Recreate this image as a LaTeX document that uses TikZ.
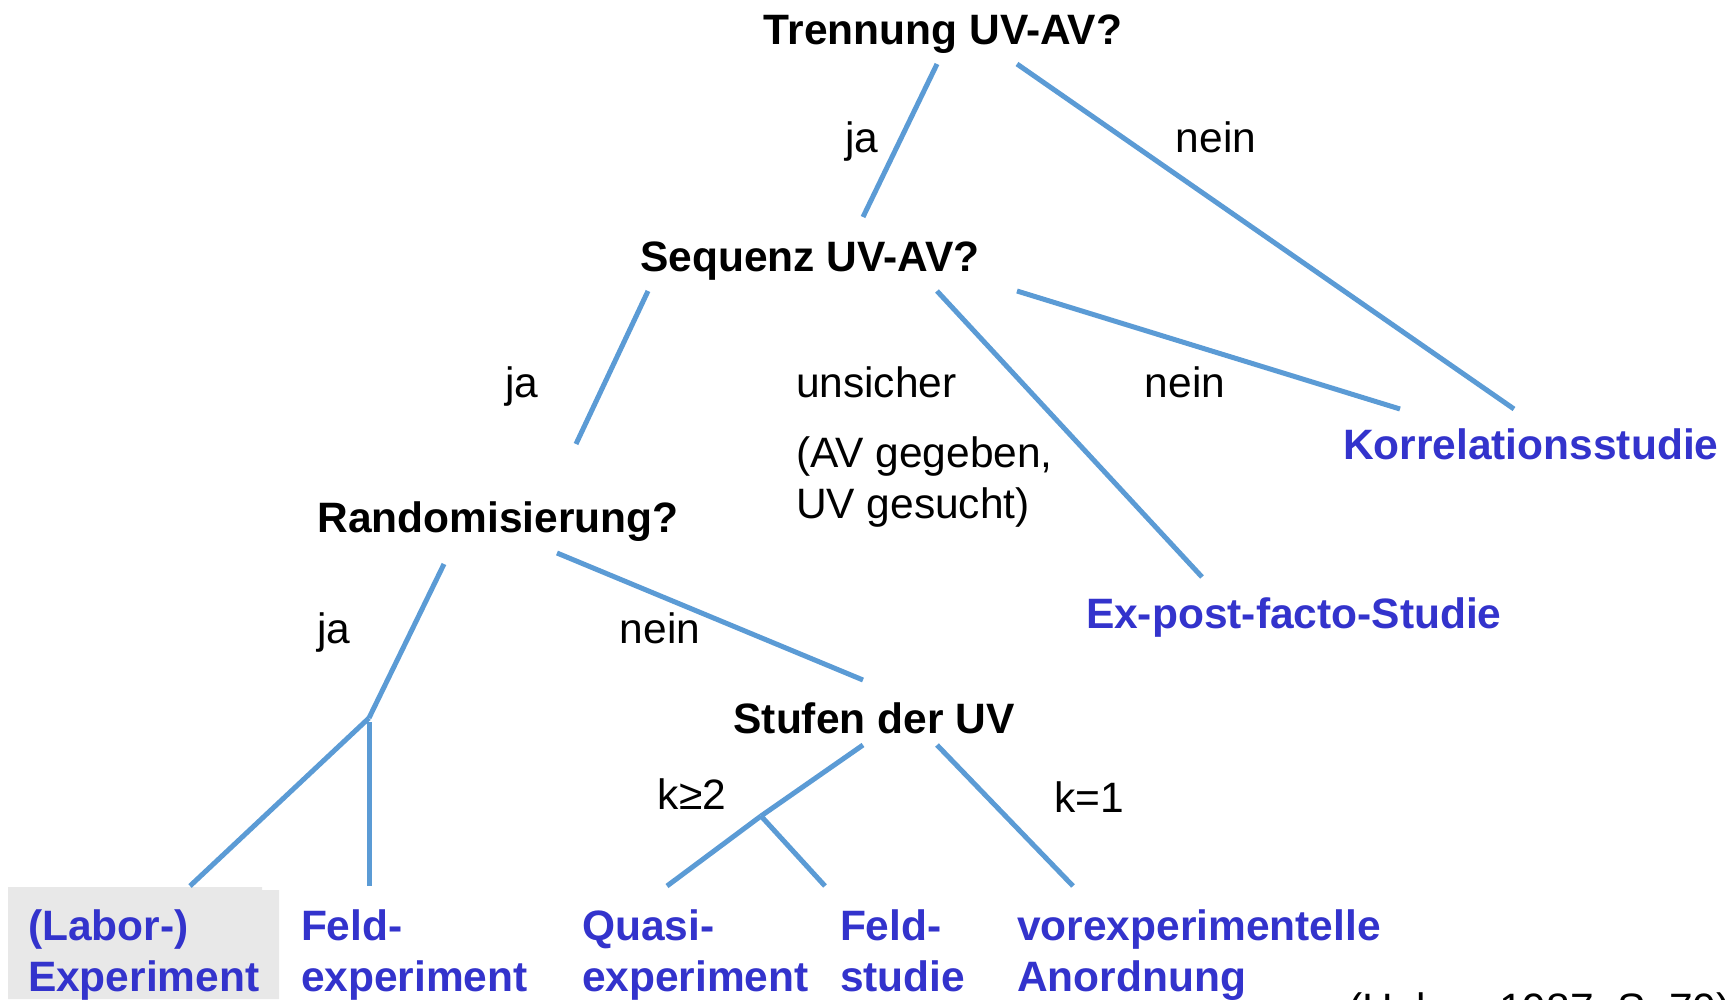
\documentclass[tikz,border=0pt]{standalone}
\usepackage{fontspec}
\setmainfont{Liberation Sans}
\definecolor{branchblue}{HTML}{5B9BD5}
\definecolor{designblue}{HTML}{3333CC}
\definecolor{panelgray}{HTML}{E8E8E8}
\newcommand{\twolines}[2]{\begin{tabular}[t]{@{}l@{}}#1\\#2\end{tabular}}

\begin{document}
\begin{tikzpicture}[x=1pt,y=-1pt,
  every node/.style={inner sep=0pt, outer sep=0pt, font=\fontsize{42.5}{51}\selectfont},
  question/.style={font=\fontsize{42.5}{51}\selectfont\bfseries, anchor=base},
  answer/.style={anchor=base},
  result/.style={font=\fontsize{42.5}{51}\selectfont\bfseries, text=designblue, anchor=base west},
  branch/.style={draw=branchblue, line width=5pt}]
\useasboundingbox (0,0) rectangle (1729,999);

% highlight behind the laboratory experiment
\fill[panelgray] (8,887) -- (262,887) -- (262,890) -- (279,890) -- (279,999) -- (8,999) -- cycle;

% questions
\node[question] (trennung) at (943,44) {Trennung UV-AV?};
\node[question] (sequenz) at (810,271) {Sequenz UV-AV?};
\node[question] (random) at (498,532) {Randomisierung?};
\node[question] (stufen) at (874,733) {Stufen der UV};

% answers
\node[answer] (a1) at (862,152) {ja};
\node[answer] (a2) at (1216,152) {nein};
\node[answer] (a3) at (522,397) {ja};
\node[answer, anchor=base west] (a4) at (796,397) {unsicher};
\node[answer, anchor=base west] (a4note) at (796,467) {\twolines{(AV gegeben,}{UV gesucht)}};
\node[answer] (a5) at (1185,397) {nein};
\node[answer] (a6) at (334,643) {ja};
\node[answer] (a7) at (660,643) {nein};
\node[answer] (a8) at (692,809) {k≥2};
\node[answer] (a9) at (1089,812) {k=1};

% resulting designs
\node[result] (korr) at (1343,459) {Korrelationsstudie};
\node[result] (expost) at (1086,628) {Ex-post-facto-Studie};
\node[result] (labor) at (28,940) {\twolines{(Labor-)}{Experiment}};
\node[result] (feldexp) at (301,940) {\twolines{Feld-}{experiment}};
\node[result] (quasi) at (582,940) {\twolines{Quasi-}{experiment}};
\node[result] (feldst) at (840,940) {\twolines{Feld-}{studie}};
\node[result] (vorexp) at (1017,940) {\twolines{vorexperimentelle}{Anordnung}};

\node[answer, anchor=base west] (quelle) at (1348,1023) {(Huber, 1987, S. 70)};

% branch end points
\coordinate (t-l) at (937,64);
\coordinate (t-r) at (1017,64);
\coordinate (s-in) at (863,217);
\coordinate (s-l) at (648,291);
\coordinate (s-m) at (937,291);
\coordinate (s-r) at (1017,291);
\coordinate (k-a) at (1400,409);
\coordinate (k-b) at (1514,409);
\coordinate (e-in) at (1202,577);
\coordinate (r-in) at (576,444);
\coordinate (r-l) at (444,564);
\coordinate (r-r) at (557,553);
\coordinate (j1) at (369,718);
\coordinate (j1b) at (369,722);
\coordinate (l-in) at (190,886);
\coordinate (f-in) at (369,886);
\coordinate (st-in) at (863,680);
\coordinate (st-l) at (863,745);
\coordinate (st-r) at (937,745);
\coordinate (j2) at (761,816);
\coordinate (q-in) at (667,886);
\coordinate (fs-in) at (825,886);
\coordinate (v-in) at (1073,886);

% branches
\draw[branch] (t-l) -- (s-in);
\draw[branch] (t-r) -- (k-b);
\draw[branch] (s-l) -- (r-in);
\draw[branch] (s-m) -- (e-in);
\draw[branch] (s-r) -- (k-a);
\draw[branch] (r-l) -- (j1);
\draw[branch] (r-r) -- (st-in);
\draw[branch] (j1) -- (l-in);
\draw[branch] (j1b) -- (f-in);
\draw[branch] (st-l) -- (j2);
\draw[branch] (j2) -- (q-in);
\draw[branch] (j2) -- (fs-in);
\draw[branch] (st-r) -- (v-in);
\end{tikzpicture}
\end{document}
